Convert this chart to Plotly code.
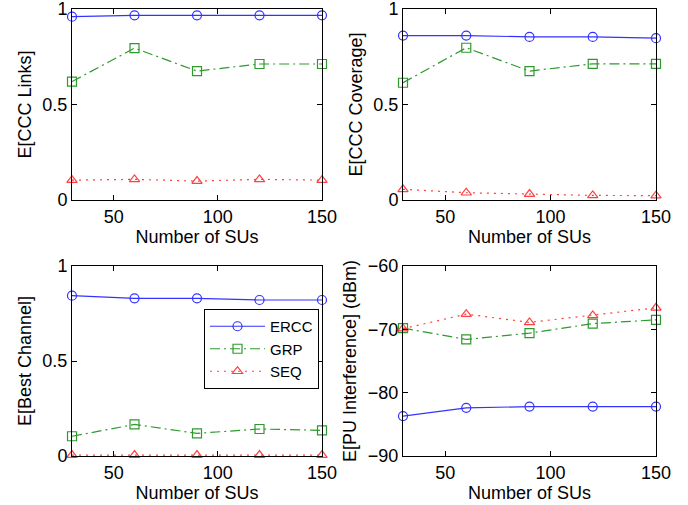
import plotly.graph_objects as go

x_sus = [30, 60, 90, 120, 150]

links_ercc = [0.960, 0.967, 0.967, 0.967, 0.967]
links_grp = [0.620, 0.795, 0.675, 0.712, 0.712]
links_seq = [0.104, 0.108, 0.099, 0.108, 0.104]

cov_ercc = [0.861, 0.861, 0.854, 0.854, 0.847]
cov_grp = [0.614, 0.797, 0.675, 0.713, 0.713]
cov_seq = [0.056, 0.038, 0.031, 0.024, 0.023]

best_ercc = [0.844, 0.830, 0.830, 0.821, 0.821]
best_grp = [0.104, 0.166, 0.119, 0.142, 0.135]
best_seq = [0.005, 0.005, 0.005, 0.005, 0.005]

intf_ercc = [-83.7, -82.4, -82.2, -82.2, -82.2]
intf_grp = [-69.8, -71.6, -70.6, -69.1, -68.5]
intf_seq = [-69.9, -67.6, -68.9, -67.8, -66.6]

series_names = ["ERCC", "GRP", "SEQ"]
y_titles = ["E[CCC Links]", "E[CCC Coverage]", "E[Best Channel]", "E[PU Interference] (dBm)"]
y_ranges = [[0, 1], [0, 1], [0, 1], [-90, -60]]
y_ticks = [[0, 0.5, 1], [0, 0.5, 1], [0, 0.5, 1], [-90, -80, -70, -60]]
y_ticktext = [["0", "0.5", "1"], ["0", "0.5", "1"], ["0", "0.5", "1"], ["\u221290", "\u221280", "\u221270", "\u221260"]]
x_ticks = [50, 100, 150]

panels = [
    (links_ercc, links_grp, links_seq),
    (cov_ercc, cov_grp, cov_seq),
    (best_ercc, best_grp, best_seq),
    (intf_ercc, intf_grp, intf_seq),
]

styles = [
    dict(color="#3333ff", dash="solid", symbol="circle-open"),
    dict(color="#2e9a2e", dash="10px,4px,2px,4px", symbol="square-open"),
    dict(color="#ff4040", dash="2px,5px", symbol="triangle-up-open"),
]

W, H = 688, 505
x_domains = [[72 / W, 322 / W], [403 / W, 656 / W]]
y_domains = [[1 - 200 / H, 1 - 9 / H], [1 - 456 / H, 1 - 266 / H]]

fig = go.Figure()
font = "Liberation Sans, Arial, Helvetica, sans-serif"

for i, data in enumerate(panels):
    ax = "" if i == 0 else str(i + 1)
    for j, ys in enumerate(data):
        st = styles[j]
        fig.add_trace(go.Scatter(
            x=x_sus, y=ys, mode="lines+markers", name=series_names[j],
            xaxis="x" + ax, yaxis="y" + ax,
            line=dict(color=st["color"], dash=st["dash"], width=1.2),
            marker=dict(symbol=st["symbol"], size=9, color=st["color"], line=dict(width=1.2, color=st["color"])),
            showlegend=(i == 2), cliponaxis=False,
        ))
    col = i % 2
    row = i // 2
    axis_common = dict(showline=True, linecolor="black", linewidth=1, mirror="ticks",
                       ticks="inside", ticklen=5, tickcolor="black", showgrid=False, zeroline=False,
                       automargin=False, ticklabeloverflow="allow",
                       tickfont=dict(size=18, color="black", family=font))
    fig.update_layout(**{
        "xaxis" + ax: dict(domain=x_domains[col], range=[30, 150], tickvals=x_ticks,
                           anchor="y" + ax,
                           title=dict(text="Number of SUs", font=dict(size=18, color="black", family=font), standoff=4),
                           **axis_common),
        "yaxis" + ax: dict(domain=y_domains[row], range=y_ranges[i], tickvals=y_ticks[i],
                           ticktext=y_ticktext[i], anchor="x" + ax,
                           title=dict(text=y_titles[i], font=dict(size=18, color="black", family=font), standoff=6),
                           **axis_common),
    })

fig.update_layout(
    width=W, height=H, margin=dict(l=0, r=0, t=0, b=0),
    paper_bgcolor="white", plot_bgcolor="white",
    font=dict(family=font, size=18, color="black"),
    legend=dict(x=319 / W, y=1 - 309 / H, xanchor="right", yanchor="top",
                bordercolor="black", borderwidth=1, bgcolor="white",
                font=dict(size=15, color="black", family=font), itemwidth=55,
                tracegroupgap=0),
)

fig.write_html("out.html", config={"displayModeBar": False},
               post_script="document.body.style.margin='0';document.body.style.overflow='hidden';")
